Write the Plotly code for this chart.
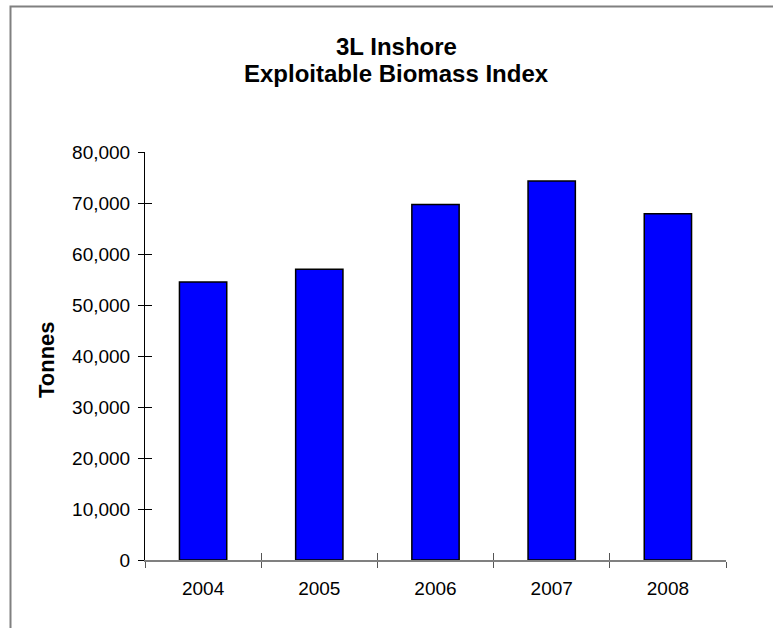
import plotly.graph_objects as go

# Exploitable biomass index, 3L Inshore (tonnes)
years = ["2004", "2005", "2006", "2007", "2008"]
biomass = [54500, 57000, 69700, 74300, 67900]
y_ticks = [0, 10000, 20000, 30000, 40000, 50000, 60000, 70000, 80000]
y_tick_text = ["0", "10,000", "20,000", "30,000", "40,000", "50,000", "60,000", "70,000", "80,000"]
title_lines = ["3L Inshore", "Exploitable Biomass Index"]
y_title = "Tonnes"

W, H = 773, 628
ML, MR, MT, MB = 145, 47, 152, 68
plot_w = W - ML - MR
plot_h = H - MT - MB


def px_x(px):
    return (px - ML) / plot_w


def px_y(py):
    return (H - MB - py) / plot_h


FONT = "Liberation Sans, Arial, sans-serif"

fig = go.Figure()
fig.add_trace(go.Bar(
    x=years, y=biomass,
    marker=dict(color="#0000FF", line=dict(color="#000000", width=1.5)),
    hoverinfo="x+y",
))
# same data on an overlay pair of axes, used only for the inward half of the tick marks
fig.add_trace(go.Bar(
    x=years, y=biomass, xaxis="x2", yaxis="y2",
    marker=dict(color="rgba(0,0,0,0)", line=dict(width=0)),
    hoverinfo="skip", showlegend=False,
))

common_y = dict(range=[0, 80000], tickvals=y_ticks, showgrid=False, zeroline=False)
common_x = dict(type="category", tickson="boundaries", showgrid=False, zeroline=False)

fig.update_layout(
    width=W, height=H,
    margin=dict(l=ML, r=MR, t=MT, b=MB, pad=0),
    paper_bgcolor="white", plot_bgcolor="white",
    showlegend=False,
    bargap=0.593,
    font=dict(family=FONT, size=19, color="black"),
    xaxis=dict(**common_x, showline=True, linecolor="#808080", linewidth=2,
               ticks="outside", ticklen=6, tickcolor="#555555", tickwidth=1,
               tickfont=dict(size=19, color="black"), ticklabelstandoff=10),
    yaxis=dict(**common_y, ticktext=y_tick_text, showline=True, linecolor="black", linewidth=1,
               ticks="outside", ticklen=6, tickcolor="black", tickwidth=1,
               tickfont=dict(size=19, color="black"), ticklabelstandoff=4),
    xaxis2=dict(**common_x, overlaying="x", anchor="y2", showline=False,
                ticks="inside", ticklen=7, tickcolor="#555555", tickwidth=1,
                showticklabels=False),
    yaxis2=dict(**common_y, overlaying="y", anchor="x2", side="left", showline=False,
                ticks="inside", ticklen=7, tickcolor="black", tickwidth=1,
                showticklabels=False),
    shapes=[dict(type="rect", xref="paper", yref="paper",
                 x0=px_x(10.5), x1=px_x(W + 20), y0=px_y(H + 20), y1=px_y(6.5),
                 line=dict(color="#808080", width=2), fillcolor="rgba(0,0,0,0)", layer="below")],
    annotations=[
        dict(text="<b>%s</b>" % title_lines[0], xref="paper", yref="paper",
             x=px_x(396.5), y=px_y(46.3), xanchor="center", yanchor="middle",
             showarrow=False, borderpad=0, font=dict(size=24, color="black", family=FONT)),
        dict(text="<b>%s</b>" % title_lines[1], xref="paper", yref="paper",
             x=px_x(396.5), y=px_y(73.5), xanchor="center", yanchor="middle",
             showarrow=False, borderpad=0, font=dict(size=24, color="black", family=FONT)),
        dict(text="<b>%s</b>" % y_title, xref="paper", yref="paper",
             x=px_x(46), y=px_y(360), xanchor="center", yanchor="middle", textangle=-90,
             showarrow=False, font=dict(size=22, color="black", family=FONT)),
    ],
)

fig.write_html("out.html")
